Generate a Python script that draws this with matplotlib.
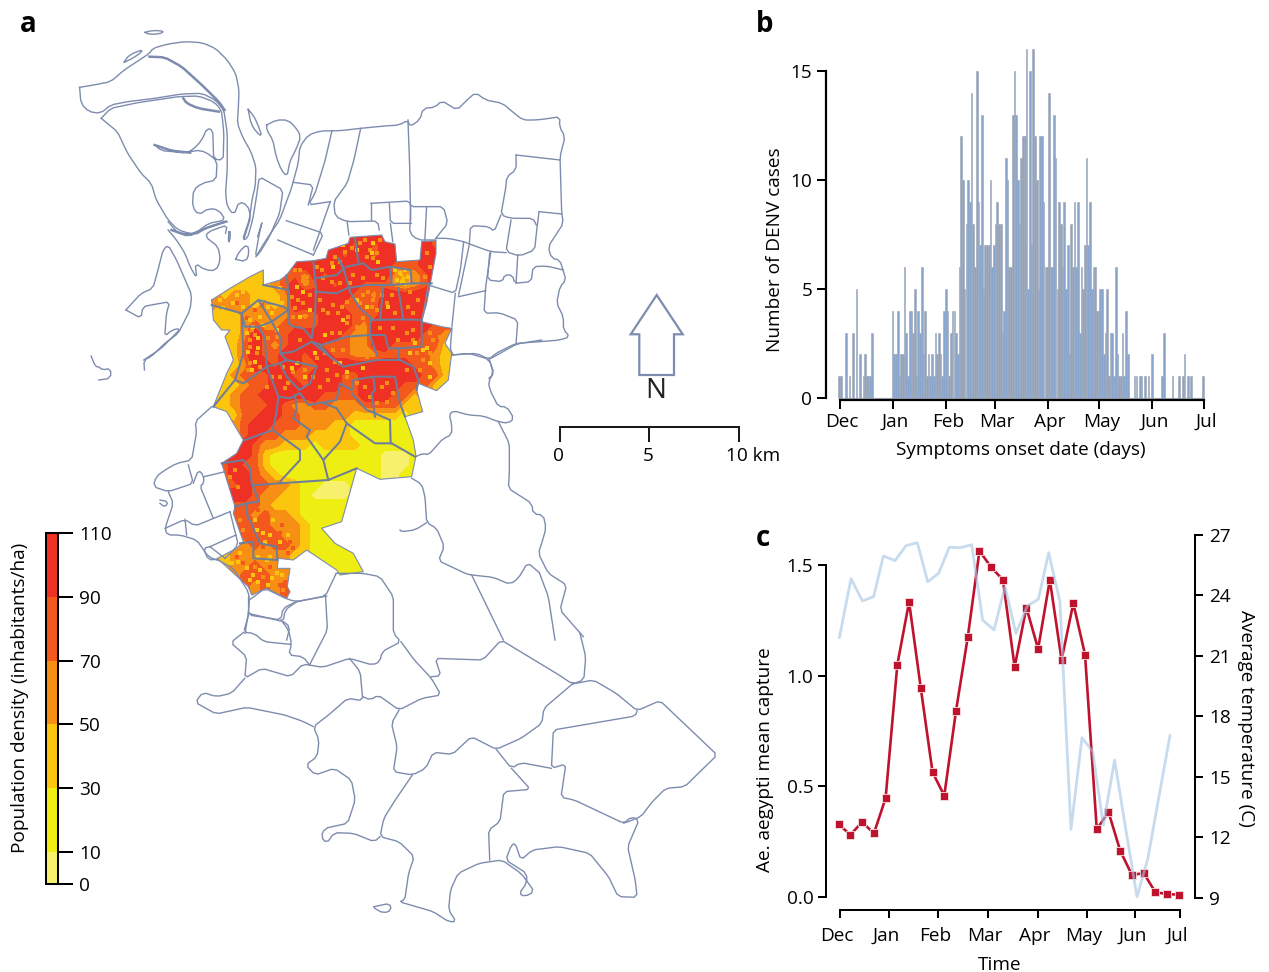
import numpy as np
import matplotlib
matplotlib.use("Agg")
import matplotlib.pyplot as plt
from matplotlib.colors import ListedColormap, BoundaryNorm
from matplotlib.patches import Polygon
from matplotlib.transforms import ScaledTranslation

plt.rcParams['font.family'] = ['Open Sans', 'DejaVu Sans']
W, H = 1269, 972
FS = 13.7

# ---------- panel b data ----------
month_labels = ['Dec', 'Jan', 'Feb', 'Mar', 'Apr', 'May', 'Jun', 'Jul']
b_month_days = [0, 31, 62, 90, 121, 151, 182, 212]
cases_dec = [1,1,0,0,3,0,1,0,3,0,5,0,2,0,1,2,1,1,1,3,0,0,0,0,0,0,0,0,0,0,0]
cases_jan_mar = [4,2,2,4,1,2,2,6,3,1,4,4,3,5,1,4,3,6,2,4,1,2,1,2,1,3,2,3,2,1,4,5,4,1,3,4,4,3,2,6,
                 12,10,5,8,10,9,14,8,6,15,9,7,13,5,7,7,7,10,6,7,8,9,8,8]
cases_mar_may = [3,4,11,10,6,6,13,15,13,10,8,11,12,12,16,5,15,7,16,12,10,5,12,12,9,6,6,14,6,6,13,11,5,9,8,
                 6,9,5,7,2,8,6,9,6,9,3,6,5,7,11,7,9,5,6,6,4,4,5,5,2,3,5,1,3,3,1,6,2,1,1,3,1,4,2]
cases_tail = [0,0,0,1,1,0,1,1,0,1,0,1,0,2,0,0,0,0,0,1,3,0,0,0,0,1,0,0,0,1,0,1,2,0,1,0,1,0,0,0,0,0,0,1]
cases = cases_dec + cases_jan_mar + cases_mar_may + cases_tail

# ---------- panel c data ----------
capture_week = list(range(30))
capture = [0.327,0.28,0.338,0.286,0.446,1.05,1.333,0.943,0.563,0.457,0.84,1.173,1.564,1.49,1.433,
           1.039,1.308,1.121,1.433,1.071,1.327,1.095,0.305,0.383,0.208,0.098,0.107,0.02,0.012,0.009]
temp_week = [0.06,1.05,2.02,2.98,3.81,4.8,5.74,6.7,7.59,8.52,9.43,10.4,11.34,12.27,13.24,14.18,15.11,
             16.08,17.02,17.9,18.86,19.8,20.74,21.65,22.56,23.52,24.46,25.43,26.36,27.3,28.24]
temperature = [21.92,24.83,23.73,23.94,25.96,25.73,26.47,26.62,24.68,25.1,26.39,26.37,26.52,22.78,22.29,
               24.44,22.12,23.48,23.81,26.12,23.69,12.39,16.94,16.25,12.6,15.83,12.44,9.05,10.95,14.01,17.04]
c_month_weeks = [0.11,4.31,8.45,12.7,16.96,21.14,25.3,29.1]

# ---------- colour scale ----------
density_bounds = [0,10,30,50,70,90,110]
density_colors = ['#f6f06c','#eeee12','#fcc60e','#f78f14','#f3591c','#ee3124']
density_mid = [5,20,40,60,80,100]
density_field = [1,20,40,60,80,109]

DENSITY_ROWS = [
 "",
 "...............5455",
 ".............5545455..54",
 ".............5455455..55",
 ".........555555555544455",
 ".....2..4435455555532345",
 "...222234534545544432345",
 "..233222355555544355555",
 ".3333232355555444455555",
 ".2223333343455544455555",
 ".222343344445554355555544",
 "..22354445555543355555443",
 "...2454345554443355444442",
 "...2454455455443334444432",
 "...2355455445555555554432",
 "..23444554455544555555442",
 "..2234455545554455554442",
 ".223445555554444555442",
 ".223444543344333444422",
 "...244554433333222221",
 "...345544433322111111",
 "....45443332222111111",
 "....543322212222111111",
 "..55542111111111110001",
 "..45442111111111110001",
 "..45543211111111110011",
 "...454433211000 0",
 "...55433221000",
 "...444322211111",
 "...44343321111",
 "...4444333211",
 "....4444332111",
 "....34344321111",
 "..23333332...111",
 "...33433......111",
 "...344433",
 ".....3434",
 "........4",
 "",
]

# ---------- map geometry (traced outlines) ----------
NORTH = [
 [(252,37),(270,32),(300,32),(307,37),(285,43),(260,42),(252,37)],
 [(190,125),(205,105),(240,90),(243,95),(215,115),(190,127)],
 [(58,202),(100,195),(150,185),(190,150),(235,120),(265,100),(275,85),(320,72),(370,65),(420,68),(460,85),(495,120),(520,160),(530,210),(528,260),(525,310),(540,350),(565,395),(580,440),(578,500),(570,530),(560,600),(540,660),(555,655),(570,600),(580,540),(590,470),(625,490),(660,510),(650,580),(620,650),(590,700),(578,710),(590,640),(600,600),(585,650)],
 [(58,202),(62,250),(85,275),(120,280),(150,255),(200,245),(280,235),(360,222),(420,220),(460,240),(485,270),(495,340),(495,450),(490,520),(495,560),(515,585),(530,545),(555,555),(565,590),(545,655)],
 [(122,295),(150,265),(230,248),(350,230),(410,228),(455,245),(478,270),(485,340),(483,420),(455,418),(452,330),(435,325),(420,360),(395,388),(370,400),(330,392),(280,375),(300,392),(370,398),(415,390),(445,405),(465,425),(462,480),(420,490),(395,510),(392,560),(410,585),(440,565),(470,570),(490,600),(440,610),(400,640),(350,640),(320,605)],
 [(122,295),(170,335),(200,400),(240,460),(270,490),(285,540),(320,600),(350,630),(400,645),(440,620),(495,605)],
 [(320,630),(345,660),(370,700),(385,740),(405,775),(400,730),(430,750),(462,752),(475,720),(468,680),(430,650),(440,635),(495,615),(490,640)],
 [(557,268),(575,290),(590,325),(598,350),(580,335),(565,310),(557,268)],
 [(612,315),(640,300),(675,300),(700,325),(713,350),(700,385),(680,425),(672,470),(655,450),(640,410),(630,360),(612,330),(612,315)],
 [(500,635),(498,665),(502,665),(505,635),(500,635)],
 [(520,718),(530,695),(555,672),(560,700),(550,725),(520,718)],
 [(195,870),(240,820),(275,805),(290,750),(305,690),(320,675),(345,720),(375,790),(390,825),(385,870),(350,940),(310,970),(270,1010),(248,1020),(250,1050)],
 [(195,870),(240,895),(245,860),(270,855),(325,845),(315,880),(310,950),(330,930),(358,925),(300,985),(248,1020)],
 [(92,1008),(105,1040),(115,1040),(125,1050),(150,1045),(150,1075),(115,1080)],
 [(580,710),(610,660),(650,600),(685,505),(705,430),(710,380),(735,345),(770,333),(830,332),(890,325),(960,318),(1005,315),(1030,300),(1035,320),(1065,300),(1075,265),(1110,262),(1130,242),(1175,270),(1210,235),(1230,218),(1260,240),(1310,250),(1345,280),(1370,300),(1410,300),(1450,295),(1480,290),(1478,320),(1495,350),(1480,410),(1485,580),(1490,610),(1445,680),(1455,715),(1480,720),(1490,755),(1498,780),(1480,800),(1470,850),(1490,890),(1490,930),(1510,950),(1480,960),(1420,965),(1350,970),(1290,1000),(1270,1018)],
 [(805,332),(785,420),(755,520),(735,555),(800,545)],
 [(890,325),(870,420),(850,490),(810,545),(815,590),(850,605),(940,603),(945,630)],
 [(1030,300),(1035,440),(1038,600)],
 [(850,605),(855,645)],
 [(690,487),(750,495),(735,555)],
 [(670,602),(780,640),(750,705)],
 [(645,660),(750,705)],
 [(800,545),(750,690)],
 [(920,550),(1035,543),(1038,560),(1135,560),(1148,610),(1112,655)],
 [(920,550),(920,600)],
 [(975,550),(978,610),(1040,610)],
 [(1038,560),(1035,640),(1060,660),(1112,660)],
 [(1085,562),(1080,660)],
 [(978,610),(985,665)],
 [(1350,405),(1480,420)],
 [(1350,405),(1350,450),(1322,470),(1320,500),(1305,585),(1335,595),(1400,595),(1410,615)],
 [(1418,575),(1485,582)],
 [(1418,575),(1410,640),(1405,690),(1360,708),(1320,695),(1335,600)],
 [(1305,585),(1285,635),(1270,620),(1215,617),(1212,670)],
 [(1112,655),(1150,655),(1195,665),(1212,672),(1275,695),(1320,698)],
 [(1195,665),(1185,750),(1170,820),(1090,795)],
 [(1212,672),(1180,825)],
 [(1275,695),(1260,800),(1255,880),(1300,878),(1355,900),(1350,970)],
 [(1272,700),(1265,780),(1310,785),(1315,765),(1340,765),(1345,790),(1395,785),(1400,740),(1440,738),(1490,750)],
 [(1355,705),(1350,790)],
 [(1180,830),(1260,812)],
 [(1170,820),(1160,920)],
 [(1090,795),(1070,910)],
 [(1160,1005),(1210,1000),(1270,1018),(1285,1060),(1270,1075)],
 [(1160,925),(1155,990),(1165,1005)],
]
NORTH_HEAVY = [
 [(265,110),(310,112),(360,140),(420,195),(470,245),(487,270)],
 [(365,235),(375,250),(410,265),(470,275)],
 [(280,375),(330,392),(385,398)],
 [(330,630),(380,648),(430,625),(490,605)],
]
EAST = [
 [(155,45),(230,40),(268,58),(300,40),(350,12),(425,0)],
 [(268,58),(280,100),(265,125),(270,150),(295,200),(320,200),(342,235),(325,250),(295,245),(250,228),(205,225),(160,212),(147,225),(155,250),(155,285),(130,295),(85,345),(70,340),(47,350)],
 [(35,415),(65,432),(75,470),(80,548),(110,565),(133,620),(115,662),(200,702),(215,705),(280,712),(330,733),(355,715),(383,668),(418,698)],
 [(295,245),(328,310),(328,400),(325,445),(395,490),(400,522),(430,525),(438,565),(425,610),(415,640),(445,700),(500,735),(480,810),(550,890)],
 [(215,705),(310,900)],
 [(418,698),(445,770),(465,900)],
 [(80,548),(45,570),(5,575),(0,570)],
]
WEST = [
 [(245,20),(195,65),(200,95),(185,180),(140,190),(105,210),(78,230),(70,260),(115,275),(190,250),(175,195)],
 [(115,275),(130,310),(105,385),(112,405),(150,405),(200,420),(235,470),(260,480)],
 [(105,385),(165,358),(195,378),(300,335)],
 [(165,358),(170,405)],
 [(190,250),(205,210),(220,225),(222,250),(210,258),(250,355)],
 [(222,230),(285,215)],
 [(300,335),(325,435),(285,475)],
 [(240,440),(318,405)],
 [(240,440),(285,475)],
 [(240,440),(220,445),(235,480),(260,478)],
 [(260,478),(310,505),(355,575),(358,600),(355,640)],
 [(358,600),(405,565),(470,597),(500,605),(590,588)],
 [(355,640),(460,665),(465,630),(500,605)],
 [(355,640),(345,700)],
 [(460,665),(480,680),(470,720)],
 [(90,300),(115,305),(105,322),(90,310)],
]
SOUTH = [
 [(285,410),(285,465),(370,480),(375,445),(410,425),(487,408),(515,340)],
 [(285,465),(272,517),(300,520),(325,545),(395,553)],
 [(370,480),(390,510),(398,553),(390,585),(428,590),(445,615)],
 [(487,408),(492,510),(445,615)],
 [(272,517),(238,548),(280,590),(275,655),(320,625),(395,650),(428,612),(480,622),(550,595),(610,615),(630,605),(635,575),(685,545),(665,520),(665,410),(630,350),(585,340),(515,340)],
 [(275,655),(240,700),(200,710),(165,697),(145,727),(200,762),(280,742),(380,765),(430,785),(455,800)],
 [(550,595),(578,635),(585,722),(545,715),(495,765),(455,800),(470,840),(465,890),(435,915),(460,945),(510,925),(555,960),(565,1020),(545,1090),(485,1105),(475,1130),(490,1150),(510,1118),(560,1120),(615,1145),(630,1130)],
 [(685,545),(720,600),(765,655),(790,705),(740,715),(680,750),(625,705),(605,720),(585,710)],
 [(680,750),(660,790),(675,860),(665,935),(715,945),(750,925),(770,877),(820,883),(870,830),(935,868),(1000,835),(1055,790),(1060,745),(1135,672)],
 [(765,650),(790,648),(775,595),(900,600),(948,540),(1100,645),(1135,672),(1165,660),(1170,590),(1155,520)],
 [(1135,672),(1190,660),(1250,700),(1305,752),(1365,722),(1515,885),(1470,935),(1430,980),(1380,985),(1345,1025),(1315,1070),(1270,1090),(1140,1020),(1105,1012),(1118,912),(1080,925),(1085,810),(1300,768),(1305,752)],
 [(1080,925),(1000,908),(975,925),(935,868)],
 [(975,925),(1025,988),(955,995),(945,1085),(915,1110),(918,1200)],
 [(715,945),(670,1020),(640,1075),(630,1130),(680,1145),(720,1190),(705,1240),(695,1320),(680,1325),(770,1355),(810,1385),(830,1385),(810,1350),(815,1290),(835,1240),(890,1210),(950,1200),(1000,1240),(1020,1270),(1035,1295),(1010,1310),(995,1300),(1015,1270),(1015,1240),(960,1200),(975,1155),(985,1150),(1000,1200),(1030,1170),(1100,1160),(1180,1180),(1230,1250),(1255,1310),(1305,1312),(1300,1260),(1280,1160),(1310,1080),(1290,1070),(1270,1090)],
 [(615,1340),(655,1330),(660,1350),(640,1360),(615,1345),(615,1340)],
]
DENSITY_OUTLINE = [(35,240),(90,205),(150,170),(190,150),(190,195),(240,180),(260,165),(290,125),(340,122),(378,115),(385,90),(445,70),(450,52),(545,45),(555,65),(585,72),(590,125),(660,120),(665,65),(708,62),(708,100),(695,170),(680,250),(665,305),(725,320),(755,325),(735,370),(755,400),(745,480),(710,512),(680,500),(655,490),(650,510),(668,575),(615,590),(640,660),(648,708),(635,770),(540,778),(470,745),(425,905),(365,925),(405,970),(460,1000),(490,1055),(420,1065),(410,1050),(320,990),(280,1020),(235,1015),(232,1045),(270,1045),(262,1100),(270,1115),(260,1135),(200,1105),(155,1125),(145,1100),(90,1050),(52,1015),(110,985),(130,965),(100,880),(105,860),(65,730),(110,700),(130,660),(100,610),(80,575),(40,560),(60,510),(80,460),(100,420),(90,390),(75,350),(90,330),(65,330),(40,300)]
DENSITY_INNER = [
 [(260,165),(265,215),(265,310),(280,320),(310,325),(335,355),(345,290),(348,210),(340,125)],
 [(345,175),(410,165),(432,145),(415,115)],
 [(415,115),(432,150),(450,215),(480,265),(520,300)],
 [(440,140),(490,130),(515,150),(570,140),(575,190)],
 [(570,140),(632,150),(635,190)],
 [(465,55),(475,125)],
 [(345,215),(410,220),(440,205),(500,195),(575,195),(635,190),(695,190)],
 [(550,200),(540,300)],
 [(595,205),(610,300)],
 [(510,300),(610,298),(665,300),(665,380),(598,385),(565,385),(555,345),(510,345),(510,300)],
 [(510,345),(530,405)],
 [(598,385),(598,420)],
 [(190,195),(265,210)],
 [(175,240),(250,260),(265,270)],
 [(35,255),(125,280),(175,240),(215,305),(265,270)],
 [(125,280),(135,320),(175,320),(215,305)],
 [(175,320),(195,355),(200,440),(130,490),(105,480),(40,560)],
 [(125,280),(130,400),(105,480)],
 [(215,305),(245,360),(240,400),(260,420)],
 [(245,400),(280,395),(335,365),(390,410),(430,440),(480,430),(530,420),(600,420),(640,440),(655,480),(650,510)],
 [(200,440),(240,430),(260,420),(350,440),(330,490),(298,510),(260,470),(240,430)],
 [(335,365),(365,375),(440,350),(510,345)],
 [(360,375),(395,415)],
 [(200,440),(220,490),(235,530),(230,575)],
 [(298,520),(270,535),(235,530)],
 [(285,525),(290,570),(280,595),(330,630),(320,650),(370,720),(385,780)],
 [(300,520),(325,555),(410,540),(420,490),(455,510),(460,480),(520,470),(585,470),(600,550),(615,590)],
 [(455,520),(500,570),(525,580),(570,600),(572,670)],
 [(520,470),(525,510),(515,520),(525,590)],
 [(372,550),(410,565),(440,610),(525,670),(575,670),(645,710)],
 [(440,610),(420,665),(370,720)],
 [(230,575),(218,630),(135,660)],
 [(218,630),(300,690),(300,720),(240,785)],
 [(165,795),(385,780),(470,745)],
 [(65,730),(130,720),(150,745),(155,790),(175,840)],
 [(175,845),(140,850),(140,880),(180,970),(230,980),(232,1020),(160,1015),(160,965),(120,970)],
 [(105,860),(140,850)],
]
SPOTS_ORANGE = [(315,175),(322,170),(308,182),(322,185),(315,190),(300,150),(295,240),(285,265),(310,250),(370,175),(395,185),(420,190),(370,270),(400,255),(440,245),(490,225),(480,250),(520,240),(530,270),(490,295),(470,320),(440,310),(420,340),(395,340),(530,100),(510,90),(520,115),(480,70),(405,110),(435,95),(590,150),(615,165),(600,175),(620,180),(585,175),(560,250),(620,340),(640,330),(690,340),(650,400),(670,420),(620,450),(300,360),(290,430),(315,450),(280,455),(380,450),(410,465),(440,470),(470,400),(430,390),(400,390),(480,370),(470,355),(490,385),(500,410),(455,375),(230,350),(230,305),(200,280),(155,330),(150,360),(170,400),(150,430),(160,300),(215,470),(200,500),(255,505),(360,500),(385,480),(545,500),(530,550),(560,545),(580,520),(105,750),(90,770),(115,800),(120,900),(130,930),(130,1010),(165,1040),(190,1070),(215,1090),(250,1110),
 (350,140),(365,150),(395,130),(420,125),(455,85),(495,60),(500,110),(540,60),(460,165),(490,175),(530,165),(550,175),(450,190),(285,150),(275,230),(280,290),(330,225),(360,240),(385,280),(415,280),(425,260),(445,290),(505,215),(515,260),(545,225),(575,225),(585,280),(630,215),(655,240),(640,280),(625,260),(680,100),(690,140),(675,170),(540,325),(580,325),(640,360),(595,360),(700,360),(720,350),(690,400),(710,430),(660,450),(375,400),(350,415),(405,425),(340,470),(250,440),(265,490),(240,470),(470,490),(495,500),(560,490),(510,530),(150,380),(165,345),(145,450),(180,440),(205,355),(225,380)]
SPOTS_YELLOW = [(585,150),(600,160),(615,150),(625,170),(590,180),(610,180),(520,70),(515,100),(535,125),(470,90),(400,140),(430,75),(290,200),(310,215),(300,290),(330,270),(375,345),(430,300),(470,240),(500,260),(565,260),(645,370),(670,390),(630,400),(690,430),(690,470),(680,385),(290,430),(275,445),(315,470),(160,320),(180,290),(215,280),(230,330),(175,385),(145,395),(155,450),(165,425),(420,430),(440,455),(490,445),(345,400),(200,1020),(180,1050),(140,1045),(115,1025),(230,1060),(215,1075),(175,1085),(245,1065),(150,1080),(190,940),(220,900),(165,900),(240,965),(265,945),(100,250),(60,240),(130,215),(80,280),(130,260),
 (150,300),(140,340),(175,355),(190,315),(205,260),(225,235),(245,250),(155,250),(110,225),(70,265),(50,270),(165,215),(215,210),(240,205),(175,1010),(120,1000),(160,1065),(205,1095),(95,1030),(210,1010),(195,965),(170,930),(210,945)]
SPOTS_DEEP = [(180,905),(210,930),(240,940),(270,965),(150,905),(190,980),(130,1030),(160,1050),(190,1060),(210,1040),(240,1095),(170,1075),(200,1085),(145,1060),(110,1010),(150,960),(170,950),(220,960),(250,985),(280,985),(265,1000),(245,915),(200,880),(175,870),(110,250),(140,295),(165,270),(185,255)]

def to_px(path, ox, oy, sx, sy):
    a = np.asarray(path, float)
    return np.column_stack([ox + a[:,0]/sx, oy + a[:,1]/sy])
def n_px(p): return to_px(p, 60, 20, 2.96, 3)
def e_px(p): return to_px(p, 400, 340, 3, 3)
def w_px(p): return to_px(p, 130, 400, 3, 3)
def s_px(p): return to_px(p, 140, 460, 2.625, 3)
def d_px(p): return to_px(p, 200, 220, 3, 3)

def rounded(q, cut=3.0):
    # round polyline corners by a fixed pixel distance
    if len(q) < 3: return q
    out = [q[0]]
    for a, b, c in zip(q[:-2], q[1:-1], q[2:]):
        u = a - b; v = c - b
        lu = np.hypot(*u); lv = np.hypot(*v)
        if lu == 0 or lv == 0: continue
        out.append(b + u/lu*min(cut, lu*0.3)); out.append(b + v/lv*min(cut, lv*0.3))
    out.append(q[-1])
    return np.array(out)

# density grid -> array
def grid_from_rows(rows, ncols=27):
    g = np.full((len(rows), ncols), np.nan)
    for i, r in enumerate(rows):
        for j, ch in enumerate(r.ljust(ncols, '.')[:ncols]):
            if ch.isdigit():
                g[i, j] = density_field[int(ch)]
    # extend values outward so the contours run past the clipped outline
    for _ in range(ncols):
        mask = np.isnan(g)
        if not mask.any(): break
        new = g.copy()
        for i, j in zip(*np.where(mask)):
            nb = [g[a, b] for a, b in ((i-1,j),(i+1,j),(i,j-1),(i,j+1))
                  if 0 <= a < g.shape[0] and 0 <= b < g.shape[1] and not np.isnan(g[a, b])]
            if nb: new[i, j] = nb[0]
        g = new
    return g

fig = plt.figure(figsize=(W/100, H/100), dpi=100, facecolor='white')
def axes_px(l, t, r, b, **kw):
    return fig.add_axes([l/W, 1-b/H, (r-l)/W, (b-t)/H], **kw)
def shift_labels(labels, dx):
    off = ScaledTranslation(dx/100, 0, fig.dpi_scale_trans)
    for l in labels:
        l.set_transform(l.get_transform() + off)

cmap = ListedColormap(density_colors); norm = BoundaryNorm(density_bounds, cmap.N)

# ---------- panel a: map ----------
m = axes_px(0, 0, W, H)
m.set_xlim(0, W); m.set_ylim(H, 0); m.axis('off')
LINE = '#7d8cae'; INNER = '#6e7d9a'

clip = Polygon(d_px(DENSITY_OUTLINE), closed=True, transform=m.transData)
grid = grid_from_rows(DENSITY_ROWS)
gx = 200 + (15 + 30*np.arange(grid.shape[1]))/3
gy = 220 + (15 + 30*np.arange(grid.shape[0]))/3
cf = m.contourf(gx, gy, grid, levels=density_bounds, cmap=cmap, norm=norm, zorder=2)
cf.set_clip_path(clip)
for pts, col, size, z in [(SPOTS_DEEP, density_colors[4], 7, 6), (SPOTS_ORANGE, density_colors[3], 6, 6.2), (SPOTS_YELLOW, density_colors[2], 5, 6.5)]:
    sp = d_px(pts)
    sc = m.scatter(sp[:,0], sp[:,1], s=size, marker='s', color=col, linewidths=0, zorder=z)
    sc.set_clip_path(clip)

for paths, fn in [(NORTH, n_px), (EAST, e_px), (WEST, w_px), (SOUTH, s_px)]:
    for p in paths:
        q = rounded(fn(p)); m.plot(q[:,0], q[:,1], color=LINE, lw=1.0, zorder=8)
for p in NORTH_HEAVY:
    q = rounded(n_px(p)); m.plot(q[:,0], q[:,1], color=LINE, lw=1.8, zorder=8)
for p in DENSITY_INNER:
    q = d_px(p); m.plot(q[:,0], q[:,1], color=INNER, lw=1.45, solid_joinstyle='round', zorder=9)
q = d_px(DENSITY_OUTLINE + DENSITY_OUTLINE[:1])
m.plot(q[:,0], q[:,1], color=LINE, lw=0.8, zorder=7)

# north arrow
arrow = Polygon([(656.7,295),(630.7,334.3),(639.3,334.3),(639.3,375),(674,375),(674,334.3),(682.7,334.3)],
                closed=True, facecolor='white', edgecolor='#7d8db0', lw=1.6, zorder=9)
m.add_patch(arrow)
m.text(656, 391, 'N', fontsize=20, ha='center', va='center', color='#222222')
# scale bar
m.plot([560,560,738.5,738.5],[441,427,427,441], color='#1a1a1a', lw=1.45, solid_joinstyle='miter')
m.plot([649,649],[427,441], color='#1a1a1a', lw=1.45)
m.text(558, 456, '0', fontsize=FS, ha='center', va='center')
m.text(648, 456, '5', fontsize=FS, ha='center', va='center')
m.text(726, 456, '10 km', fontsize=FS, ha='left', va='center')

m.text(28, 25, 'a', fontsize=20, fontweight='bold', ha='center', va='center')
m.text(765, 25, 'b', fontsize=20, fontweight='bold', ha='center', va='center')
m.text(763, 538, 'c', fontsize=20, fontweight='bold', ha='center', va='center')

# ---------- colour bar ----------
cb = axes_px(45.7, 533, 57.7, 884)
cb.pcolormesh([0,1], density_bounds, np.array([[v] for v in density_mid]), cmap=cmap, norm=norm)
cb.set_xticks([]); cb.set_ylim(0,110)
cb.yaxis.tick_right()
cb.set_yticks([0,10,30,50,70,90,110])
cb.set_yticklabels(['0','10','30','50','70','90','110'], fontsize=FS)
cb.tick_params(axis='y', length=10.5, width=1.45, pad=5)
for s in cb.spines.values(): s.set_linewidth(1.45)
m.text(20, 698, 'Population density (inhabitants/ha)', rotation=90, fontsize=FS, ha='center', va='center')

# ---------- panel b ----------
pxd = 1.717
b = axes_px(825.5, 48, 1206, 400)
b.patch.set_alpha(0)
b.set_xlim((825.5-840)/pxd, (1206-840)/pxd)
b.set_ylim((398-400)/21.8, (398-48)/21.8)
days = np.arange(len(cases)) - 0.4
b.hlines(0, -0.8, 212, color='#b5b9c0', lw=0.9, zorder=1)
b.bar(days, cases, width=0.98, color='#8aa5cb', edgecolor='#9fa9b8', linewidth=0.45, zorder=2)
for s in ['top','right']: b.spines[s].set_visible(False)
b.spines['left'].set_bounds(0,15); b.spines['bottom'].set_bounds(0,212)
for s in ['left','bottom']: b.spines[s].set_linewidth(1.6)
b.set_yticks([0,5,10,15]); b.set_yticklabels(['0','5','10','15'], fontsize=FS)
b.set_xticks(b_month_days); b.set_xticklabels(month_labels, fontsize=FS)
b.tick_params(axis='both', width=1.45, length=6.5, pad=3)
shift_labels(b.get_xticklabels(), 2)
m.text(775, 250, 'Number of DENV cases', rotation=90, fontsize=FS, ha='center', va='center')
m.text(1021, 450, 'Symptoms onset date (days)', fontsize=FS, ha='center', va='center')

# ---------- panel c ----------
wk = 11.73
c = axes_px(826, 530, 1195, 910)
c.patch.set_alpha(0)
c.set_xlim((826-838.7)/wk, (1195-838.7)/wk)
c.set_ylim((896.7-910)/221.1, (896.7-530)/221.1)
c.plot(capture_week, capture, color='#bf132d', lw=1.9, marker='s', ms=6, mfc='#bf132d', mec='#f7e3e5', mew=0.6, zorder=3)
for s in ['top','right']: c.spines[s].set_visible(False)
c.spines['left'].set_bounds(0,1.5); c.spines['bottom'].set_bounds(c_month_weeks[0], c_month_weeks[-1])
for s in ['left','bottom']: c.spines[s].set_linewidth(1.45)
c.set_yticks([0,0.5,1.0,1.5]); c.set_yticklabels(['0.0','0.5','1.0','1.5'], fontsize=FS)
c.set_xticks(c_month_weeks); c.set_xticklabels(month_labels, fontsize=FS)
c.tick_params(axis='both', width=1.45, length=6, pad=3)
c.tick_params(axis='x', pad=6)
shift_labels(c.get_xticklabels(), -3)
t = c.twinx()
t.patch.set_alpha(0)
t.set_ylim(9+(897.7-910)/20.15, 9+(897.7-530)/20.15)
t.plot(temp_week, temperature, color='#a6c6e6', lw=2.0, alpha=0.62, zorder=4)
for s in ['top','left','bottom']: t.spines[s].set_visible(False)
t.spines['right'].set_bounds(9,27); t.spines['right'].set_linewidth(1.45)
t.set_yticks([9,12,15,18,21,24,27]); t.set_yticklabels(['9','12','15','18','21','24','27'], fontsize=FS)
t.tick_params(axis='y', width=1.45, length=6, pad=4)
m.text(765, 760, 'Ae. aegypti mean capture', rotation=90, fontsize=FS, ha='center', va='center')
m.text(1246, 718, 'Average temperature (C)', rotation=270, fontsize=FS, ha='center', va='center')
m.text(1000, 965, 'Time', fontsize=FS, ha='center', va='center')

fig.savefig('out.png', dpi=100)
